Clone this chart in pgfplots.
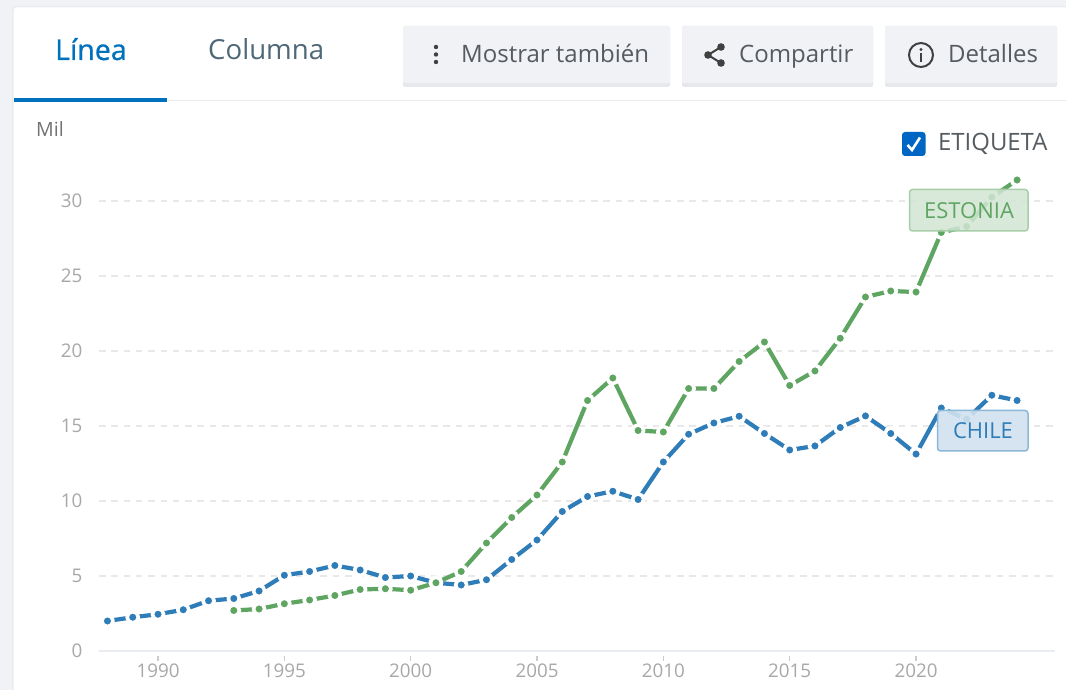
\documentclass[border=0pt]{standalone}
\usepackage{fontspec}
\setmainfont{Open Sans}
\newfontfamily\semib[FakeBold=0.7]{Open Sans}
\usepackage{pgfplots}
\pgfplotsset{compat=1.18}
\definecolor{pagebg}{HTML}{F0F2F6}
\definecolor{edge}{HTML}{E9EBEF}
\definecolor{tabblue}{HTML}{0071BC}
\definecolor{tabgray}{HTML}{4E6878}
\definecolor{btn}{HTML}{F1F2F5}
\definecolor{btnb}{HTML}{E6E8EC}
\definecolor{btntxt}{HTML}{555B60}
\definecolor{rule}{HTML}{E9EDF2}
\definecolor{gridc}{HTML}{E8E8E8}
\definecolor{tickc}{HTML}{A8A8A8}
\definecolor{chile}{HTML}{2E7DB8}
\definecolor{eston}{HTML}{5FA562}
\begin{document}
\begin{tikzpicture}[x=1pt,y=1pt]
\useasboundingbox (0,0) rectangle (1066,690);
\begin{scope}[x=1pt,y=-1pt,yshift=690pt]
\fill[pagebg] (0,0) rectangle (1066,690);
\fill[edge,rounded corners=3pt] (12,6) rectangle (1070,695);
\fill[white,rounded corners=3pt] (13.5,7.5) rectangle (1070,695);
% buttons
\foreach \a/\b in {403/670,682/873,885/1057}{
  \fill[btnb,rounded corners=2pt] (\a,26) rectangle (\b,87);
  \fill[btn,rounded corners=2pt] (\a,26) rectangle (\b,83);
}
% rules
\fill[rule] (13,100) rectangle (1066,101.5);
\fill[tabblue] (13.5,98) rectangle (167,102);
% tabs
\node[anchor=base west,inner sep=0,text=tabblue,font=\fontsize{28.6}{28.6}\selectfont\semib] at (55,60) {Línea};
\node[anchor=base west,inner sep=0,text=tabgray,font=\fontsize{27.6}{27.6}\selectfont] at (208,60) {Columna};
% button text
\node[anchor=base west,inner sep=0,text=btntxt,font=\fontsize{24}{24}\selectfont] at (461,62.5) {Mostrar también};
\node[anchor=base west,inner sep=0,text=btntxt,font=\fontsize{24}{24}\selectfont] at (739,62.5) {Compartir};
\node[anchor=base west,inner sep=0,text=btntxt,font=\fontsize{24}{24}\selectfont] at (948,62.5) {Detalles};
% icons
\fill[black!75] (436,47) circle (2.2) (436,54.5) circle (2.2) (436,62) circle (2.2);
\draw[black!75,line width=2pt] (721,47) -- (708,55) -- (721,63);
\fill[black!75] (721,47) circle (3.8) (708,55) circle (3.8) (721,63) circle (3.8);
\draw[black!75,line width=2pt] (921,55) circle (12);
\fill[black!75] (921,49.5) circle (1.6);
\draw[black!75,line width=2.2pt] (921,53.5) -- (921,62);
% Mil
\node[anchor=base west,inner sep=0,text=black!55,font=\fontsize{19.6}{19.6}\selectfont] at (36,137) {Mil};
% checkbox
\fill[tabblue!90!blue,rounded corners=3pt] (902,132) rectangle (925.5,156);
\draw[white,line width=2.6pt] (907.5,145) -- (912,150) -- (920,137.5);
\node[anchor=base west,inner sep=0,text=btntxt,font=\fontsize{23.9}{23.9}\selectfont] at (938,151) {ETIQUETA};
\end{scope}
\begin{axis}[
  at={(99pt,39pt)},anchor=south west,
  scale only axis,width=956pt,height=480pt,
  xmin=1987.665,xmax=2025.5,ymin=0,ymax=32,
  clip=false,
  axis x line*=bottom,axis y line*=left,
  axis line style={rule,line width=2pt,-},
  y axis line style={draw=none},
  xtick={1990,1995,2000,2005,2010,2015,2020},
  ytick={0,5,10,15,20,25,30},
  ymajorgrids,
  grid style={gridc,line width=1.8pt,dash pattern=on 6.5pt off 5.8pt},
  major x tick style={draw=black!20,line width=1.1pt,yshift=-5pt},
  major y tick style={draw=none},
  major tick length=5pt,
  tick align=outside,
  tick label style={text=tickc,font=\fontsize{18.8}{18.8}\selectfont},
  x tick label style={yshift=-4pt},
  y tick label style={xshift=-8pt},
  /pgf/number format/assume math mode=true,
  /pgf/number format/1000 sep={},
  every axis plot/.append style={line width=4.2pt,mark=*,mark size=5.6pt,line join=round},
]
\addplot[chile,mark options={fill=chile,draw=white,line width=3.6pt,solid}] coordinates {
(1988,2.0)(1989,2.25)(1990,2.45)(1991,2.75)(1992,3.35)(1993,3.5)(1994,4.0)(1995,5.05)(1996,5.3)(1997,5.7)
(1998,5.4)(1999,4.9)(2000,5.0)(2001,4.55)(2002,4.4)(2003,4.75)(2004,6.1)(2005,7.4)(2006,9.3)(2007,10.3)
(2008,10.65)(2009,10.1)(2010,12.6)(2011,14.45)(2012,15.2)(2013,15.65)(2014,14.5)(2015,13.4)(2016,13.67)(2017,14.9)
(2018,15.67)(2019,14.5)(2020,13.13)(2021,16.2)(2022,15.45)(2023,17.05)(2024,16.7)};
\addplot[eston,mark options={fill=eston,draw=white,line width=3.6pt,solid}] coordinates {
(1993,2.7)(1994,2.8)(1995,3.15)(1996,3.4)(1997,3.7)(1998,4.1)(1999,4.15)(2000,4.05)(2001,4.55)(2002,5.3)
(2003,7.2)(2004,8.9)(2005,10.4)(2006,12.6)(2007,16.7)(2008,18.2)(2009,14.7)(2010,14.6)(2011,17.5)(2012,17.5)
(2013,19.3)(2014,20.6)(2015,17.7)(2016,18.67)(2017,20.85)(2018,23.6)(2019,24.0)(2020,23.93)(2021,27.9)(2022,28.3)
(2023,30.25)(2024,31.4)};
\end{axis}
\begin{scope}[x=1pt,y=-1pt,yshift=690pt]
\draw[eston!55!white,line width=1.5pt,fill=eston!28!white,fill opacity=0.85,rounded corners=3pt] (909.5,189.5) rectangle (1028,231);
\draw[chile!55!white,line width=1.5pt,fill=chile!22!white,fill opacity=0.9,rounded corners=3pt] (937.5,410.5) rectangle (1028,451);
\node[anchor=base,inner sep=0,text=eston,font=\fontsize{22}{22}\selectfont] at (969,218.5) {ESTONIA};
\node[anchor=base,inner sep=0,text=chile,font=\fontsize{22}{22}\selectfont] at (983,439) {CHILE};
\end{scope}
\end{tikzpicture}
\end{document}
